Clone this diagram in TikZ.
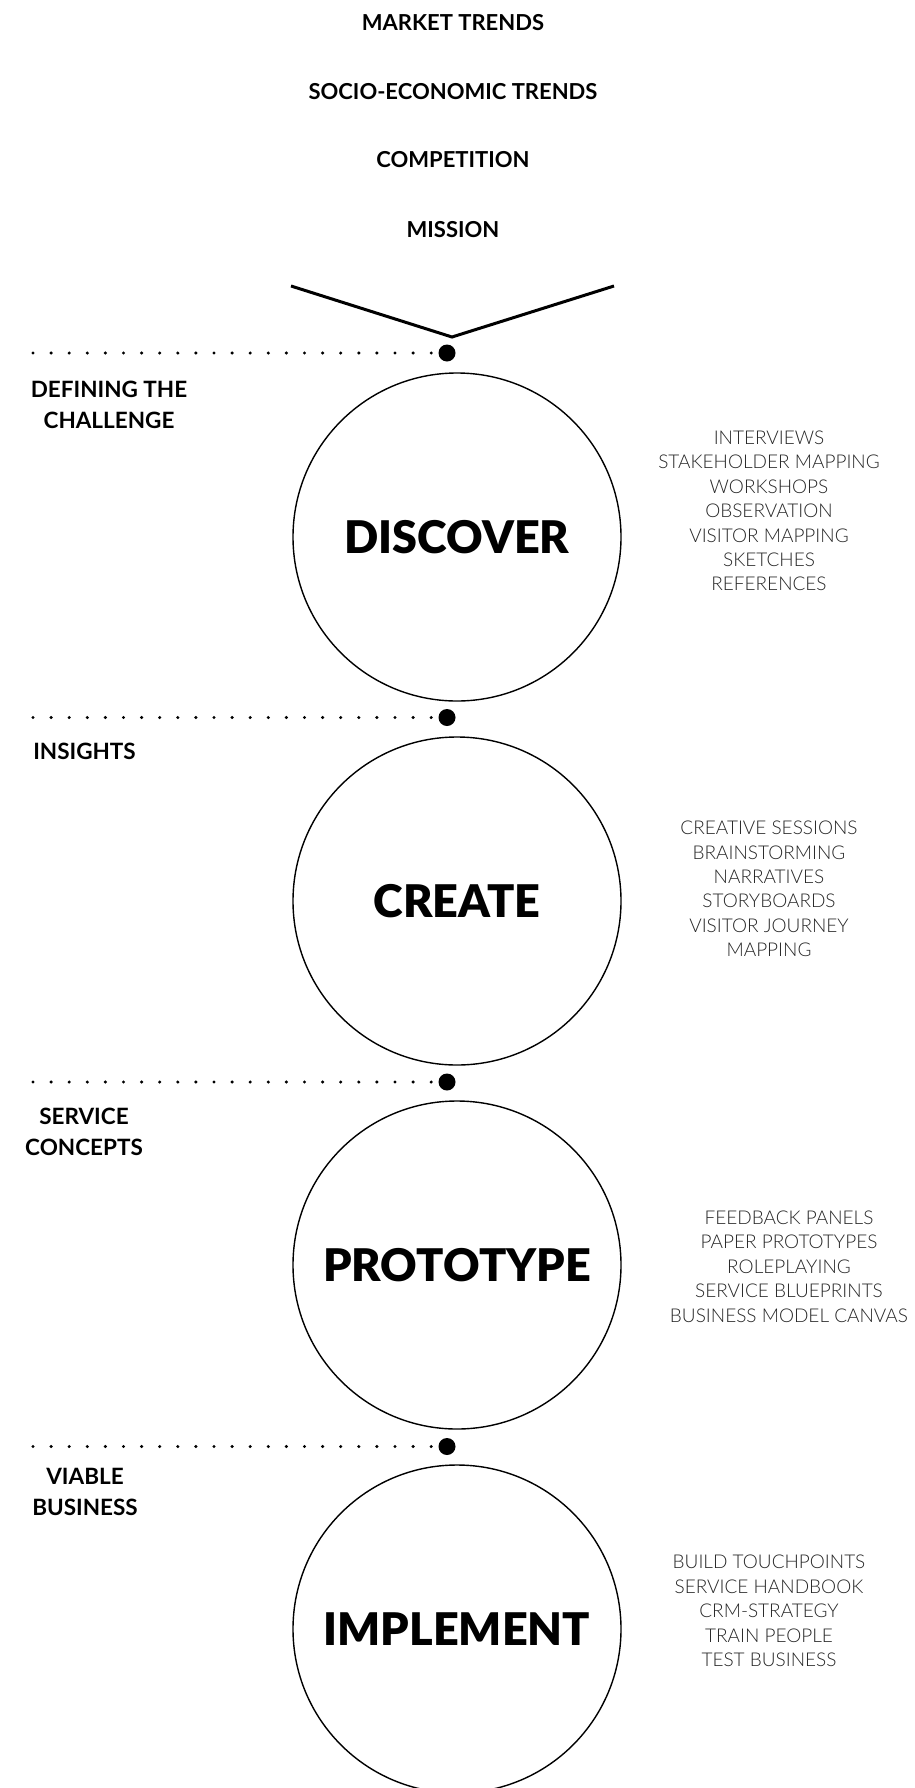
\documentclass[tikz,border=0pt]{standalone}
\usepackage{fontspec}
\setmainfont{Lato}
\newfontfamily\thinfont{Lato Light}
\newfontfamily\heavyfont{Lato Black}
\usetikzlibrary{positioning}

\begin{document}
\begin{tikzpicture}[x=1pt, y=-1pt,
    trend/.style={font=\bfseries\fontsize{22}{26}\selectfont},
    phase/.style={draw, circle, line width=1.4pt, minimum size=328pt, inner sep=0pt,
      font=\heavyfont\fontsize{45}{50}\selectfont},
    milestone/.style={font=\bfseries\fontsize{22.5}{31}\selectfont, align=center, anchor=north},
    method/.style={font=\thinfont\fontsize{19}{24.4}\selectfont, align=center, text=black!85},
    bigdot/.style={circle, fill=black, minimum size=17pt, inner sep=0pt},
    dots/.style={line width=3.4pt, line cap=round, dash pattern=on 0pt off 18.1pt}]
    \useasboundingbox (0,0) rectangle (915,1788);
    \clip (0,0) rectangle (915,1788);
    % inputs on top
    \node[trend] (market) at (453,23) {MARKET TRENDS};
    \node[trend] (socio) at (453,92) {SOCIO-ECONOMIC TRENDS};
    \node[trend] (compet) at (453,160) {COMPETITION};
    \node[trend] (mission) at (453,230) {MISSION};
    %
    \coordinate (vleft) at (291,286);
    \coordinate (vtip) at (452,337);
    \coordinate (vright) at (614,286);
    \draw[line width=3pt] (vleft) -- (vtip) -- (vright);
    %
    % milestones
    \node[bigdot] (dot1) at (447,353) {};
    \node[bigdot] (dot2) at (447,717.5) {};
    \node[bigdot] (dot3) at (447,1082) {};
    \node[bigdot] (dot4) at (447,1446.5) {};
    \coordinate (row1) at (33,353);
    \coordinate (row2) at (33,717.5);
    \coordinate (row3) at (33,1082);
    \coordinate (row4) at (33,1446.5);
    \draw[dots] (row1) -- (dot1);
    \draw[dots] (row2) -- (dot2);
    \draw[dots] (row3) -- (dot3);
    \draw[dots] (row4) -- (dot4);
    \node[milestone] (challenge) at (109,378) {DEFINING THE\\CHALLENGE};
    \node[milestone] (insights) at (84.5,740) {INSIGHTS};
    \node[milestone] (concepts) at (84,1105) {SERVICE\\CONCEPTS};
    \node[milestone] (viable) at (85,1465) {VIABLE\\BUSINESS};
    %
    % phases
    \node[phase] (discover) at (457,537) {DISCOVER};
    \node[phase] (create) at (457,901) {CREATE};
    \node[phase] (prototype) at (457,1265) {PROTOTYPE};
    \node[phase] (implement) at (457,1629) {IMPLEMENT};
    %
    % methods
    \node[method] (discovertools) at (769,511) {INTERVIEWS\\STAKEHOLDER MAPPING\\WORKSHOPS\\OBSERVATION\\VISITOR MAPPING\\SKETCHES\\REFERENCES};
    \node[method] (createtools) at (769,889) {CREATIVE SESSIONS\\BRAINSTORMING\\NARRATIVES\\STORYBOARDS\\VISITOR JOURNEY\\MAPPING};
    \node[method] (prototypetools) at (789,1266.5) {FEEDBACK PANELS\\PAPER PROTOTYPES\\ROLEPLAYING\\SERVICE BLUEPRINTS\\BUSINESS MODEL CANVAS};
    \node[method] (implementtools) at (769,1611) {BUILD TOUCHPOINTS\\SERVICE HANDBOOK\\CRM-STRATEGY\\TRAIN PEOPLE\\TEST BUSINESS};
\end{tikzpicture}
\end{document}
